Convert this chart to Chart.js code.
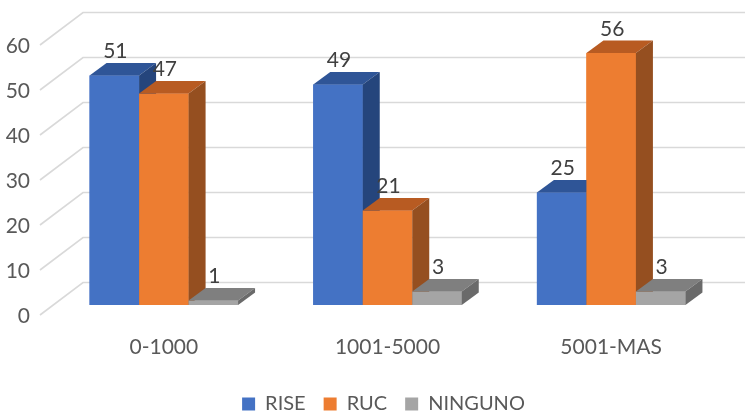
<!DOCTYPE html>
<html><head><meta charset="utf-8">
<script src="https://cdn.jsdelivr.net/npm/chart.js@4"></script>
<style>html,body{margin:0;padding:0;background:#fff}</style>
</head><body>
<canvas id="c" width="745" height="412"></canvas>
<script>
const categories = ['0-1000', '1001-5000', '5001-MAS'];
const seriesNames = ['RISE', 'RUC', 'NINGUNO'];
const rise = [51, 49, 25];
const ruc = [47, 21, 56];
const ninguno = [1, 3, 3];
const yTicks = [0, 10, 20, 30, 40, 50, 60];

const frontColors = ['#4472C4', '#ED7D31', '#A5A5A5'];
const topColors = ['#2F5597', '#B85B22', '#7F7F7F'];
const sideColors = ['#25457C', '#954F20', '#6A6A6A'];
const DX = 17, DY = -12.5;
const FONT = 'Lato';

const fake3d = {
  id: 'fake3d',
  beforeDatasetsDraw(chart) {
    const ctx = chart.ctx, y = chart.scales.y, L = chart.chartArea.left;
    ctx.save();
    ctx.strokeStyle = '#d9d9d9';
    ctx.lineWidth = 1.6;
    yTicks.forEach(v => {
      const p = y.getPixelForValue(v);
      ctx.beginPath();
      ctx.moveTo(L - 12, p + 10);
      ctx.lineTo(L + 31, p - 22.5);
      ctx.lineTo(chart.width, p - 22.5);
      ctx.stroke();
    });
    ctx.restore();
  },
  afterDatasetsDraw(chart) {
    const ctx = chart.ctx;
    ctx.save();
    // repaint every bar in series order so later series sit in front of earlier side faces
    chart.data.datasets.forEach((ds, i) => {
      chart.getDatasetMeta(i).data.forEach(bar => {
        const p = bar.getProps(['x', 'y', 'base', 'width'], true);
        const x1 = p.x - p.width / 2, x2 = p.x + p.width / 2, t = p.y, b = p.base;
        ctx.fillStyle = frontColors[i];
        ctx.fillRect(x1, t, x2 - x1, b - t);
        ctx.fillStyle = topColors[i];
        ctx.beginPath();
        ctx.moveTo(x1, t); ctx.lineTo(x2, t); ctx.lineTo(x2 + DX, t + DY); ctx.lineTo(x1 + DX, t + DY);
        ctx.closePath(); ctx.fill();
        ctx.fillStyle = sideColors[i];
        ctx.beginPath();
        ctx.moveTo(x2, t); ctx.lineTo(x2 + DX, t + DY); ctx.lineTo(x2 + DX, b + DY); ctx.lineTo(x2, b);
        ctx.closePath(); ctx.fill();
      });
    });
    ctx.fillStyle = '#404040';
    ctx.font = '21px ' + FONT;
    ctx.textAlign = 'center';
    ctx.textBaseline = 'middle';
    chart.data.datasets.forEach((ds, i) => {
      chart.getDatasetMeta(i).data.forEach((bar, j) => {
        const p = bar.getProps(['x', 'y'], true);
        ctx.fillText(String(ds.data[j]), p.x + 1, p.y - 24);
      });
    });
    ctx.restore();
  }
};

const seriesData = [rise, ruc, ninguno];
new Chart(document.getElementById('c'), {
  type: 'bar',
  data: {
    labels: categories,
    datasets: seriesNames.map((n, i) => ({
      label: n,
      data: seriesData[i],
      backgroundColor: frontColors[i],
      borderWidth: 0,
      categoryPercentage: 0.664,
      barPercentage: 1.0
    }))
  },
  options: {
    responsive: false,
    animation: false,
    events: [],
    layout: { padding: { left: 0, right: -22, top: 35, bottom: -12 } },
    plugins: {
      tooltip: { enabled: false },
      legend: {
        position: 'bottom',
        labels: {
          boxWidth: 13, boxHeight: 13, padding: 18,
          color: '#595959',
          font: { family: FONT, size: 20 }
        }
      }
    },
    scales: {
      x: {
        grid: { display: false },
        border: { display: false },
        ticks: { color: '#595959', font: { family: FONT, size: 21 }, padding: 22, maxRotation: 0 },
        afterFit(s) { s.height = 71; }
      },
      y: {
        min: 0, max: 60,
        grid: { display: false },
        border: { display: false },
        afterBuildTicks(s) { s.ticks = yTicks.map(v => ({ value: v })); },
        ticks: { color: '#595959', font: { family: FONT, size: 21 }, padding: 14, labelOffset: 11 },
        afterFit(s) { s.width = 52; }
      },
      y2: {
        position: 'right',
        grid: { display: false },
        border: { display: false },
        ticks: { display: false },
        afterFit(s) { s.width = 44; }
      }
    }
  },
  plugins: [fake3d]
});
</script>
</body></html>
